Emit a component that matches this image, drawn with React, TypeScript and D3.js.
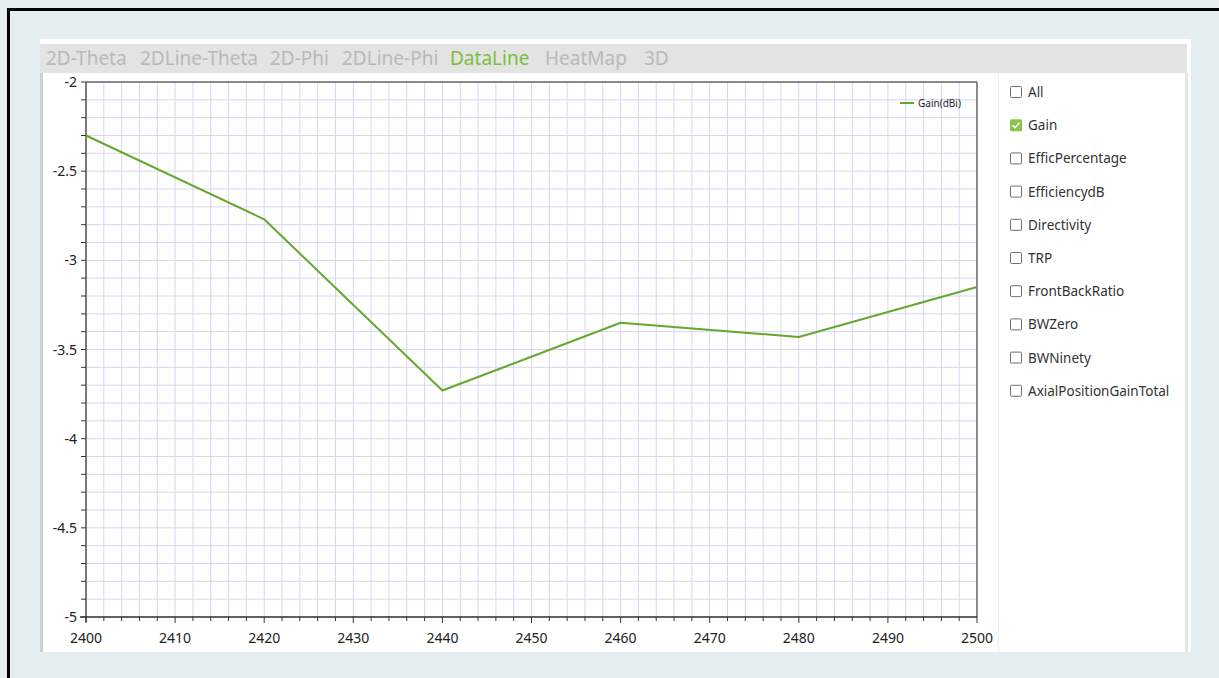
import React from "react";
import { scaleLinear, line, range } from "d3";

const freqs = [2400, 2420, 2440, 2460, 2480, 2500];
const gain = [-2.3, -2.77, -3.73, -3.35, -3.43, -3.15];
const xTicks = [2400, 2410, 2420, 2430, 2440, 2450, 2460, 2470, 2480, 2490, 2500];
const yTicks = [-2, -2.5, -3, -3.5, -4, -4.5, -5];
const tabs = ["2D-Theta", "2DLine-Theta", "2D-Phi", "2DLine-Phi", "DataLine", "HeatMap", "3D"];
const tabX = [46, 140, 270, 342, 450, 545, 644];
const activeTab = "DataLine";
const options = ["All", "Gain", "EfficPercentage", "EfficiencydB", "Directivity", "TRP", "FrontBackRatio", "BWZero", "BWNinety", "AxialPositionGainTotal"];
const checked = ["Gain"];

const FONT = "'Noto Sans', 'Open Sans', sans-serif";

export default function App() {
  const x = scaleLinear().domain([2400, 2500]).range([86, 977]);
  const y = scaleLinear().domain([-5, -2]).range([617, 82]);

  const minorX = range(2400, 2500.01, 2);
  const minorY = range(0, 31).map((i) => -5 + i * 0.1);

  const path = line<number>()
    .x((_, i) => x(freqs[i]))
    .y((d) => y(d))(gain);

  return (
    <svg
      width={1219}
      height={678}
      style={{ position: "absolute", left: 0, top: 0, fontFamily: FONT }}
    >
      <rect width={1219} height={678} fill="#e4eef0" />
      {/* frame */}
      <path d="M8.5,678 V9.5 H1219" fill="none" stroke="#000" strokeWidth={3} />

      {/* panel */}
      <rect x={40} y={39} width={1151} height={613} fill="#fff" />
      <rect x={40} y={44} width={1147} height={29} fill="#e3e3e3" />
      <rect x={40} y={73} width={3} height={579} fill="#cfcfcf" />
      <rect x={1185} y={73} width={3} height={579} fill="#e6e6e6" />
      <line x1={998.5} x2={998.5} y1={73} y2={652} stroke="#f0f0f0" />

      {tabs.map((t, i) => (
        <text
          key={t}
          x={tabX[i]}
          y={65}
          fontSize={19}
          fill={t === activeTab ? "#7cbf3c" : "#b9b9b9"}
        >
          {t}
        </text>
      ))}

      {/* grid */}
      {minorX.map((v) => (
        <line key={"gx" + v} x1={x(v)} x2={x(v)} y1={82} y2={617} stroke="#d6d6f0" strokeWidth={1} />
      ))}
      {minorY.map((v, i) => (
        <line key={"gy" + i} x1={86} x2={977} y1={y(v)} y2={y(v)} stroke="#d6d6f0" strokeWidth={1} />
      ))}

      {/* plot border */}
      <line x1={86} x2={977} y1={82} y2={82} stroke="#6a6a6a" strokeWidth={1.5} />
      <line x1={977} x2={977} y1={82} y2={617} stroke="#6a6a6a" strokeWidth={1.5} />

      {/* y axis */}
      <line x1={86} x2={86} y1={82} y2={622} stroke="#7a7a7a" strokeWidth={2} />
      {minorY.map((v, i) => (
        <line key={"ty" + i} x1={81} x2={86} y1={y(v)} y2={y(v)} stroke="#333" strokeWidth={1} />
      ))}
      {yTicks.map((v) => (
        <text key={"ly" + v} x={77} y={y(v) + 5} fontSize={14} textAnchor="end" fill="#222">
          {v}
        </text>
      ))}

      {/* x axis */}
      <line x1={80} x2={977} y1={617} y2={617} stroke="#333" strokeWidth={1.5} />
      {minorX.map((v) => (
        <line
          key={"tx" + v}
          x1={x(v)}
          x2={x(v)}
          y1={617}
          y2={v % 10 === 0 ? 623 : 621}
          stroke="#333"
          strokeWidth={1}
        />
      ))}
      {xTicks.map((v) => (
        <text key={"lx" + v} x={x(v)} y={643} fontSize={14} textAnchor="middle" fill="#222">
          {v}
        </text>
      ))}

      {/* series */}
      <path d={path ?? ""} fill="none" stroke="#64a82c" strokeWidth={2} strokeLinejoin="round" />

      {/* legend */}
      <line x1={900} x2={914} y1={103} y2={103} stroke="#64a82c" strokeWidth={2} />
      <text x={918} y={107} fontSize={10} fill="#222">
        Gain(dBi)
      </text>

      {/* checkbox list */}
      {options.map((o, i) => {
        const cy = 92 + i * 33.2;
        const on = checked.includes(o);
        return (
          <g key={o}>
            {on ? (
              <>
                <rect x={1010} y={cy - 6} width={12} height={12} rx={1.5} fill="#8bc34a" />
                <path
                  d={`M${1012.5},${cy} L${1015},${cy + 2.5} L${1019.5},${cy - 2.5}`}
                  fill="none"
                  stroke="#fff"
                  strokeWidth={1.6}
                />
              </>
            ) : (
              <rect x={1010.5} y={cy - 5.5} width={11} height={11} rx={1} fill="#fff" stroke="#707070" strokeWidth={1} />
            )}
            <text x={1028} y={cy + 5} fontSize={13.5} fill="#333">
              {o}
            </text>
          </g>
        );
      })}
    </svg>
  );
}
